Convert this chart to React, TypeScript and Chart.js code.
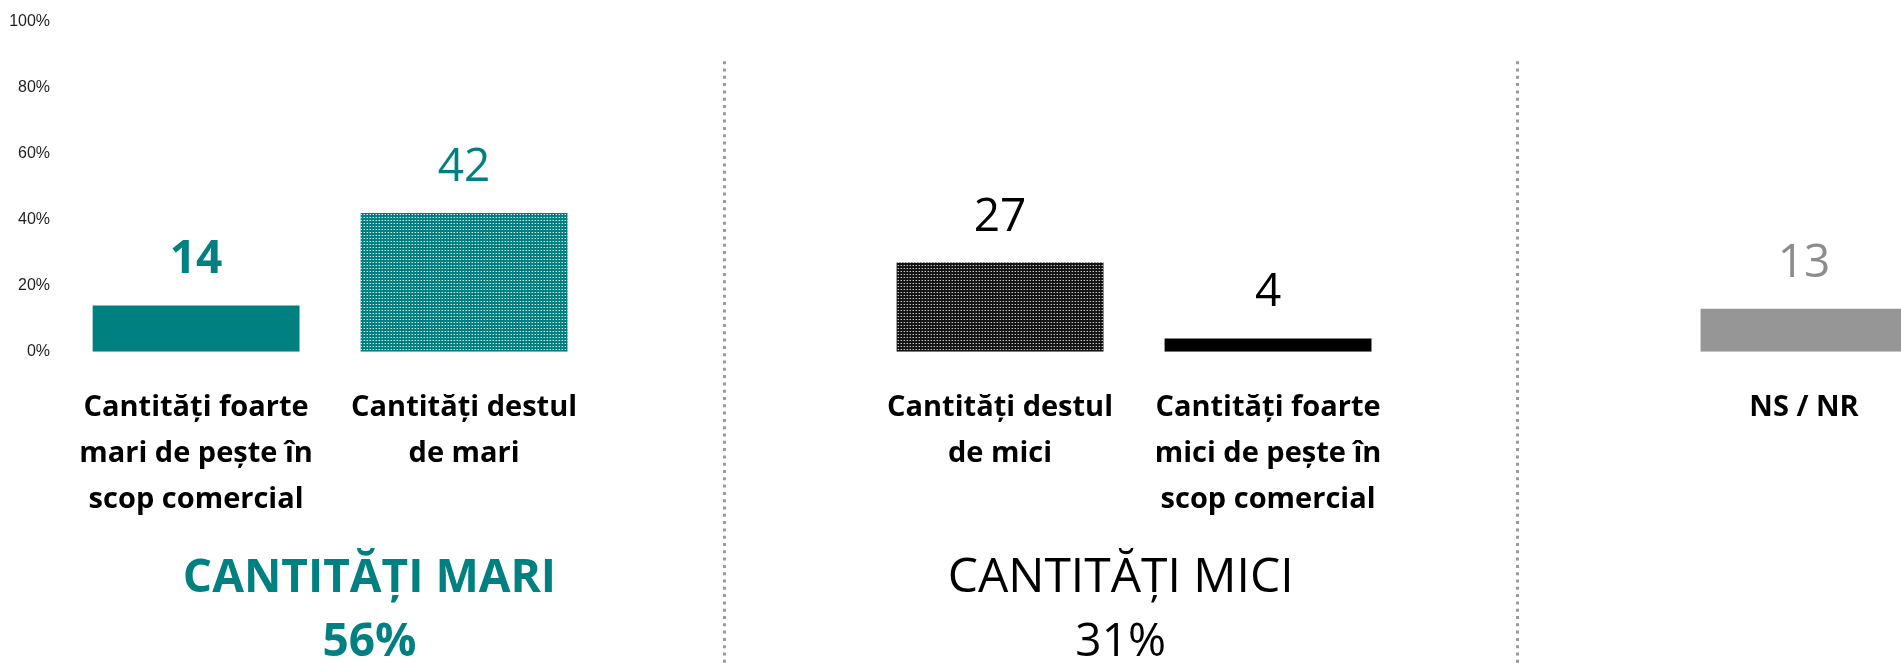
import React, { useEffect, useRef } from 'react';
import { Chart, registerables } from 'chart.js';

Chart.register(...registerables);

// ---- data ----
const categories: (string | string[])[] = [
  ['Cantități foarte', 'mari de pește în', 'scop comercial'],
  ['Cantități destul', 'de mari'],
  '',
  ['Cantități destul', 'de mici'],
  ['Cantități foarte', 'mici de pește în', 'scop comercial'],
  '',
  'NS / NR',
];
const values: (number | null)[] = [14, 42, null, 27, 4, null, 13];
const valueLabels = ['14', '42', '', '27', '4', '', '13'];
const yTickValues = [0, 20, 40, 60, 80, 100];
const groupTitles = [
  ['CANTITĂȚI MARI', '56%'],
  ['CANTITĂȚI MICI', '31%'],
];
const groupPositions = [0.647, 3.45];
const separatorPositions = [1.97, 4.93];
const separatorTopValue = 88;

// ---- styles ----
const TEAL = '#008080';
const labelColors = [TEAL, TEAL, '#000', '#000', '#000', '#000', '#8c8c8c'];
const labelWeights = ['700', '400', '400', '400', '400', '400', '400'];
const groupColors = [TEAL, '#000'];
const groupWeights = ['700', '400'];
const groupSizes = [
  [46, 46],
  [48, 46],
];

function makePattern(base: string, dot: string, mid: string): CanvasPattern | string {
  const c = document.createElement('canvas');
  c.width = 3;
  c.height = 3;
  const g = c.getContext('2d');
  if (!g) return base;
  g.fillStyle = base;
  g.fillRect(0, 0, 3, 3);
  g.fillStyle = mid;
  g.fillRect(0, 1, 1, 1);
  g.fillStyle = dot;
  g.fillRect(1, 1, 1, 1);
  const p = g.createPattern(c, 'repeat');
  return p || base;
}

const overlayPlugin = {
  id: 'overlay',
  afterDatasetsDraw(chart: any) {
    const { ctx, chartArea, scales } = chart;
    const x = scales.x;
    const y = scales.y;
    const meta = chart.getDatasetMeta(0);
    ctx.save();
    // value labels
    meta.data.forEach((bar: any, i: number) => {
      if (values[i] == null) return;
      ctx.font = `${labelWeights[i]} 46px "Open Sans"`;
      ctx.fillStyle = labelColors[i];
      ctx.textAlign = 'center';
      ctx.textBaseline = 'alphabetic';
      ctx.fillText(valueLabels[i], bar.x, bar.y - 32);
    });
    // dotted separators
    ctx.strokeStyle = '#9a9a9a';
    ctx.lineWidth = 3;
    ctx.setLineDash([3, 4.3]);
    separatorPositions.forEach((p) => {
      const px = Math.round(x.getPixelForValue(p)) + 0.5;
      ctx.beginPath();
      ctx.moveTo(px, y.getPixelForValue(separatorTopValue));
      ctx.lineTo(px, chart.height);
      ctx.stroke();
    });
    ctx.setLineDash([]);
    // group titles
    groupTitles.forEach((lines, gi) => {
      const px = x.getPixelForValue(groupPositions[gi]);
      ctx.fillStyle = groupColors[gi];
      ctx.textAlign = 'center';
      ctx.textBaseline = 'alphabetic';
      ctx.font = `${groupWeights[gi]} ${groupSizes[gi][0]}px "Open Sans"`;
      ctx.fillText(lines[0], px, chartArea.bottom + 240);
      ctx.font = `${groupWeights[gi]} ${groupSizes[gi][1]}px "Open Sans"`;
      ctx.fillText(lines[1], px, chartArea.bottom + 304);
    });
    ctx.restore();
  },
};

export default function App() {
  const ref = useRef<HTMLCanvasElement | null>(null);

  useEffect(() => {
    if (!ref.current) return;
    const teal = makePattern(TEAL, '#d8eeee', '#5fb0af');
    const dark = makePattern('#141414', '#c8c8c8', '#5a5a5a');
    const colors = [TEAL, teal, 'rgba(0,0,0,0)', dark, '#000000', 'rgba(0,0,0,0)', '#969696'];
    const chart = new Chart(ref.current, {
      type: 'bar',
      data: {
        labels: categories,
        datasets: [
          {
            data: values,
            backgroundColor: colors as any,
            borderWidth: 0,
            barPercentage: 0.772,
            categoryPercentage: 1,
          },
        ],
      },
      options: {
        animation: false,
        responsive: true,
        maintainAspectRatio: false,
        layout: { padding: { top: 19.4, left: 0, right: 0, bottom: 0 } },
        plugins: {
          legend: { display: false },
          tooltip: { enabled: false },
          title: { display: false },
        },
        scales: {
          x: {
            type: 'category',
            grid: { display: false, drawTicks: false },
            border: { display: false },
            ticks: {
              autoSkip: false,
              maxRotation: 0,
              minRotation: 0,
              padding: 33,
              color: '#000',
              font: { family: '"Open Sans"', size: 29, weight: 'bold', lineHeight: 46 / 29 },
            },
            afterFit(scale: any) {
              scale.height = 663 - 351.7;
            },
          },
          y: {
            min: 0,
            max: 100,
            grid: { display: false, drawTicks: false },
            border: { display: false },
            afterBuildTicks(scale: any) {
              scale.ticks = yTickValues.map((v) => ({ value: v }));
            },
            ticks: {
              padding: 12,
              color: '#1f1f1f',
              font: { family: '"Liberation Sans", Arial', size: 16 },
              callback: (v: any) => `${v}%`,
            },
            afterFit(scale: any) {
              scale.width = 62.1;
            },
          },
        },
      },
      plugins: [overlayPlugin],
    });
    return () => chart.destroy();
  }, []);

  return (
    <div
      style={{
        position: 'absolute',
        left: 0,
        top: 0,
        width: 1901,
        height: 663,
        overflow: 'hidden',
        background: '#fff',
      }}
    >
      <div style={{ position: 'relative', width: 1938, height: 663 }}>
        <canvas ref={ref} />
      </div>
    </div>
  );
}
